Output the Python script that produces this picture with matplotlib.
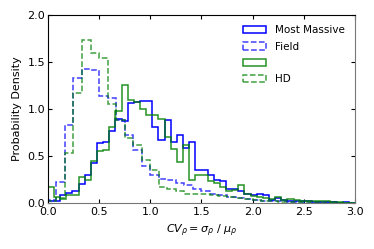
import numpy as np
import matplotlib
matplotlib.use("Agg")
from matplotlib import pyplot as plt

# solid histograms: 50 bins over 0..3
solid_edges = np.linspace(0.0, 3.0, 51)
most_massive = [0.02, 0.02, 0.08, 0.11, 0.13, 0.20, 0.30, 0.43, 0.64, 0.65,
                0.76, 0.89, 0.87, 1.06, 1.07, 1.08, 1.08, 0.81, 0.67, 0.88,
                0.65, 0.72, 0.58, 0.65, 0.35, 0.35, 0.30, 0.24, 0.23, 0.15,
                0.15, 0.13, 0.09, 0.08, 0.10, 0.08, 0.03, 0.05, 0.03, 0.02,
                0.02, 0.02, 0.02, 0.01, 0.01, 0.01, 0.005, 0.0, 0.005, 0.0]
hd_solid = [0.17, 0.06, 0.04, 0.08, 0.08, 0.28, 0.24, 0.45, 0.55, 0.56,
            0.81, 0.98, 1.25, 1.10, 1.07, 1.00, 0.94, 0.94, 0.89, 0.70,
            0.57, 0.44, 0.62, 0.24, 0.30, 0.30, 0.23, 0.21, 0.17, 0.13,
            0.14, 0.19, 0.09, 0.07, 0.06, 0.05, 0.04, 0.06, 0.03, 0.04,
            0.03, 0.02, 0.02, 0.02, 0.02, 0.02, 0.01, 0.005, 0.003, 0.002]

# dashed histograms: 36 bins over 0..3
dashed_edges = np.linspace(0.0, 3.0, 37)
field = [0.03, 0.22, 0.83, 1.33, 1.42, 1.41, 1.14, 1.12, 0.88, 0.72,
         0.56, 0.39, 0.30, 0.25, 0.24, 0.21, 0.19, 0.15, 0.13, 0.10,
         0.08, 0.06, 0.05, 0.04, 0.03, 0.02, 0.02, 0.02, 0.01, 0.01,
         0.01, 0.01, 0.005, 0.005, 0.003, 0.002]
hd_dashed = [0.02, 0.05, 0.53, 1.17, 1.73, 1.60, 1.54, 1.05, 0.88, 0.69,
             0.62, 0.46, 0.35, 0.17, 0.15, 0.13, 0.10, 0.10, 0.10, 0.08,
             0.07, 0.06, 0.05, 0.04, 0.03, 0.02, 0.02, 0.01, 0.01, 0.01,
             0.005, 0.005, 0.003, 0.002, 0.002, 0.001]

fig = plt.figure(figsize=(3.74, 2.49), dpi=100)
ax = fig.add_axes([0.128, 0.185, 0.821, 0.755])

def centers(e):
    return 0.5 * (e[:-1] + e[1:])

ax.hist(centers(solid_edges), bins=solid_edges, weights=most_massive,
        histtype="step", color="b", lw=1.1, label="Most Massive")
ax.hist(centers(dashed_edges), bins=dashed_edges, weights=field,
        histtype="step", color="b", lw=1.1, ls="--", alpha=0.75, label="Field")
ax.hist(centers(solid_edges), bins=solid_edges, weights=hd_solid,
        histtype="step", color="g", lw=1.1, alpha=0.85, label=" ")
ax.hist(centers(dashed_edges), bins=dashed_edges, weights=hd_dashed,
        histtype="step", color="g", lw=1.1, ls="--", alpha=0.75, label="HD")

ax.set_xlim(0, 3)
ax.set_ylim(0, 2)
ax.set_xticks(np.arange(0, 3.01, 0.5))
ax.set_yticks(np.arange(0, 2.01, 0.5))
ax.tick_params(direction="in", top=True, right=True, labelsize=8, length=3)
ax.tick_params(axis="x", pad=3)
ax.tick_params(axis="y", pad=2)
for side in ["bottom", "right"]:
    ax.spines[side].set_color("#777777")
ax.set_ylabel("Probability Density", fontsize=8)
ax.set_xlabel(r"$CV_\rho = \sigma_\rho\ /\ \mu_\rho$", fontsize=8)
ax.legend(loc="upper right", frameon=False, fontsize=7.5, handlelength=2.2,
          labelspacing=0.6, borderaxespad=0.6)

fig.savefig("out.png", dpi=100)
